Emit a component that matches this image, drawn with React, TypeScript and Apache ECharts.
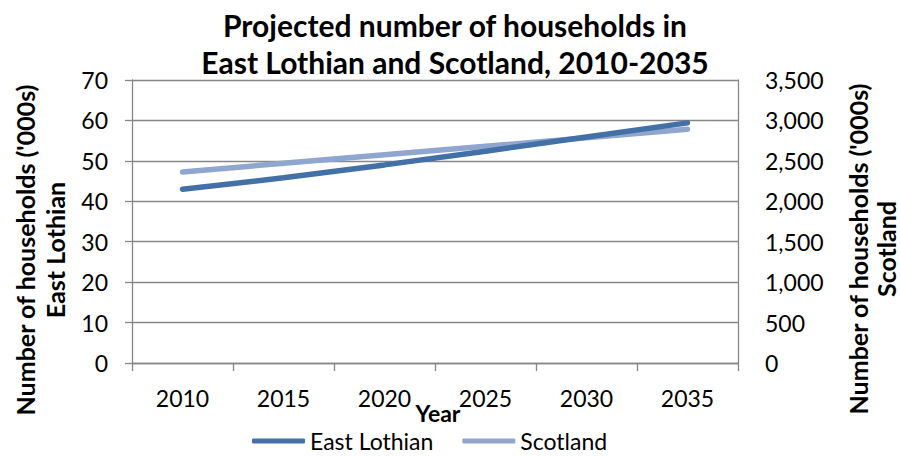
import React, { useEffect, useRef } from "react";
import * as echarts from "echarts";

const years = ["2010", "2015", "2020", "2025", "2030", "2035"];
const eastLothian = [43.0, 45.8, 49.0, 52.4, 55.9, 59.4];
const scotland = [2363, 2470, 2575, 2680, 2785, 2891];
const leftTicks = { min: 0, max: 70, interval: 10 };
const rightTicks = { min: 0, max: 3500, interval: 500 };

const FONT = "Lato, 'Open Sans', sans-serif";
const GRID = "#878787";

export default function App() {
  const ref = useRef<HTMLDivElement>(null);
  useEffect(() => {
    if (!ref.current) return;
    const chart = echarts.init(ref.current, undefined, { renderer: "svg" });
    chart.setOption({
      animation: false,
      backgroundColor: "#ffffff",
      textStyle: { fontFamily: FONT },
      title: {
        text: "Projected number of households in\nEast Lothian and Scotland, 2010-2035",
        left: 450,
        top: 1,
        textAlign: "center",
        textStyle: { fontFamily: FONT, fontWeight: "bold", fontSize: 30, lineHeight: 37, color: "#000" },
      },
      grid: { left: 132, right: 162, top: 80, bottom: 94, containLabel: false },
      legend: {
        left: 252,
        top: 428,
        padding: 0,
        icon: "roundRect",
        itemWidth: 53,
        itemHeight: 5,
        itemGap: 29,
        textStyle: { fontFamily: FONT, fontSize: 23, lineHeight: 26, color: "#000", padding: [0, 0, 0, 0] },
        data: ["East Lothian", "Scotland"],
      },
      xAxis: {
        type: "category",
        data: years,
        boundaryGap: true,
        axisLine: { lineStyle: { color: GRID, width: 1.3 } },
        axisTick: { show: true, length: 8, lineStyle: { color: GRID, width: 1.3 } },
        axisLabel: { margin: 23, fontFamily: FONT, fontSize: 23, color: "#000" },
      },
      yAxis: [
        {
          type: "value",
          ...leftTicks,
          position: "left",
          axisLine: { show: true, lineStyle: { color: GRID, width: 1.3 } },
          axisTick: { show: true, length: 7, lineStyle: { color: GRID, width: 1.3 } },
          axisLabel: { margin: 24, fontFamily: FONT, fontSize: 23, color: "#000" },
          splitLine: { show: true, lineStyle: { color: GRID, width: 1.3 } },
        },
        {
          type: "value",
          ...rightTicks,
          position: "right",
          axisLine: { show: true, lineStyle: { color: GRID, width: 1.3 } },
          axisTick: { show: false },
          axisLabel: {
            margin: 27,
            fontFamily: FONT,
            fontSize: 23,
            color: "#000",
            formatter: (v: number) => v.toLocaleString("en-US"),
          },
          splitLine: { show: false },
        },
      ],
      series: [
        {
          name: "East Lothian",
          type: "line",
          data: eastLothian,
          yAxisIndex: 0,
          symbol: "none",
          color: "#4470A8",
          lineStyle: { width: 5.5, color: "#4470A8", cap: "round" },
          z: 3,
        },
        {
          name: "Scotland",
          type: "line",
          data: scotland,
          yAxisIndex: 1,
          symbol: "none",
          color: "#8FA6CF",
          lineStyle: { width: 5.5, color: "#8FA6CF", cap: "round" },
          z: 2,
        },
      ],
      graphic: [
        {
          type: "text",
          x: 25,
          y: 250,
          rotation: Math.PI / 2,
          style: { text: "Number of households ('000s)", fontFamily: FONT, fontWeight: "bold", fontSize: 25, fill: "#000", align: "center", verticalAlign: "middle" },
        },
        {
          type: "text",
          x: 55,
          y: 250,
          rotation: Math.PI / 2,
          style: { text: "East Lothian", fontFamily: FONT, fontWeight: "bold", fontSize: 25, fill: "#000", align: "center", verticalAlign: "middle" },
        },
        {
          type: "text",
          x: 858,
          y: 249,
          rotation: Math.PI / 2,
          style: { text: "Number of households ('000s)", fontFamily: FONT, fontWeight: "bold", fontSize: 25, fill: "#000", align: "center", verticalAlign: "middle" },
        },
        {
          type: "text",
          x: 886,
          y: 249,
          rotation: Math.PI / 2,
          style: { text: "Scotland", fontFamily: FONT, fontWeight: "bold", fontSize: 25, fill: "#000", align: "center", verticalAlign: "middle" },
        },
        {
          type: "text",
          x: 438,
          y: 413,
          style: { text: "Year", fontFamily: FONT, fontWeight: "bold", fontSize: 23, fill: "#000", align: "center", verticalAlign: "middle" },
        },
      ],
    });
    return () => chart.dispose();
  }, []);
  return <div ref={ref} style={{ width: 900, height: 457, position: "absolute", left: 0, top: 0 }} />;
}
